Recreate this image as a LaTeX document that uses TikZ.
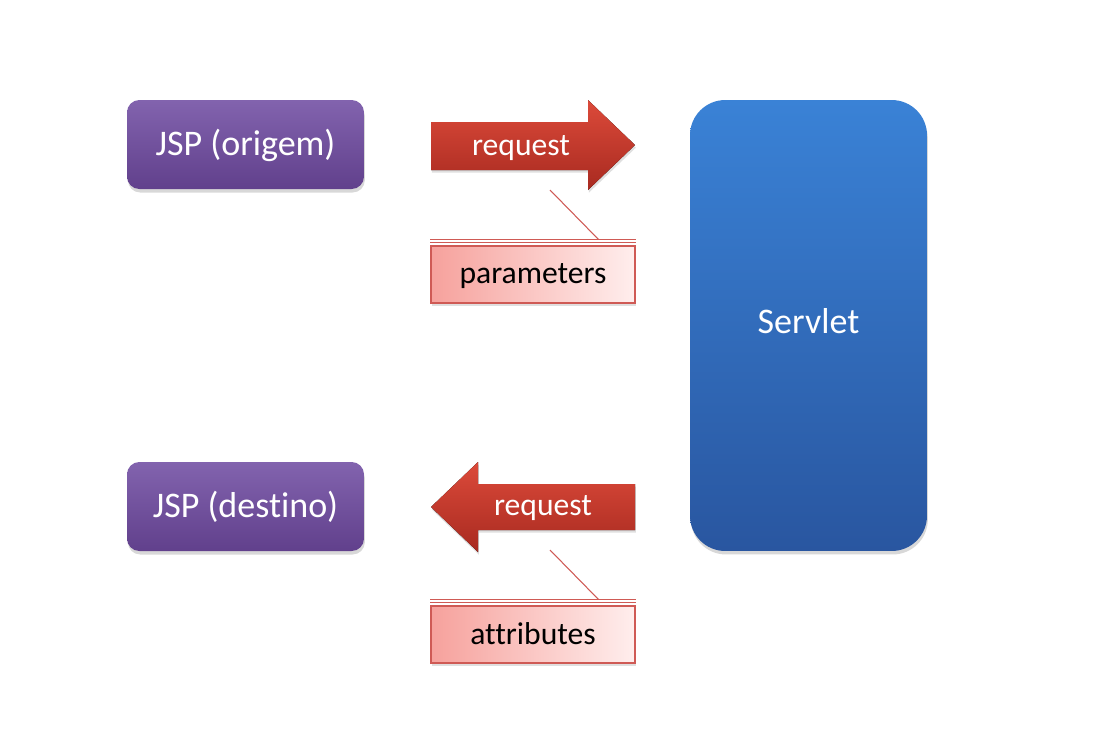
\documentclass[tikz,border=0pt]{standalone}
\usepackage{fontspec}
\setmainfont[Ligatures=NoCommon]{Carlito}
\usepackage{tikz}
\usetikzlibrary{shadows,positioning,calc}
\definecolor{jspTop}{HTML}{8263AE}
\definecolor{jspBot}{HTML}{61408C}
\definecolor{servTop}{HTML}{3A82D6}
\definecolor{servBot}{HTML}{2956A0}
\definecolor{redTop}{HTML}{DC4A3A}
\definecolor{redBot}{HTML}{A82A20}
\definecolor{noteLeft}{HTML}{F6A19C}
\definecolor{noteRight}{HTML}{FFEEED}
\definecolor{noteLine}{HTML}{CF5A55}

\begin{document}
\begin{tikzpicture}[x=0.02cm,y=-0.02cm,
  gross/.style={font=\fontsize{20.5}{23}\selectfont, text height=12.3pt, text depth=0pt},
  klein/.style={font=\fontsize{18}{20}\selectfont, text height=10.8pt, text depth=0pt},
  jsp/.style={gross, rounded corners=7pt, top color=jspTop, bottom color=jspBot, text=white,
    minimum width=4.74cm, minimum height=1.78cm,
    drop shadow={shadow xshift=0.5pt, shadow yshift=-2pt, opacity=0.3}},
  servlet/.style={gross, rounded corners=20pt, top color=servTop, bottom color=servBot, text=white,
    minimum width=4.74cm, minimum height=9.02cm,
    drop shadow={shadow xshift=0.5pt, shadow yshift=-2pt, opacity=0.3}},
  pfeil/.style={top color=redTop, bottom color=redBot,
    drop shadow={shadow xshift=0.5pt, shadow yshift=-1.5pt, opacity=0.25}},
  pfeiltext/.style={klein, text=white, inner sep=0pt},
  notiz/.style={klein, draw=noteLine, line width=0.6pt, left color=noteLeft, right color=noteRight,
    minimum width=4.08cm, minimum height=1.14cm, text=black,
    drop shadow={shadow xshift=0.5pt, shadow yshift=-1.5pt, opacity=0.25}},
  notizlinie/.style={noteLine, line width=0.6pt}]
\useasboundingbox (0,0) rectangle (1102,735);
\fill[white] (0,0) rectangle (1102,735);
%Kaesten
\node[jsp] (origem) at (245.5,144.5) {JSP (origem)};
\node[jsp] (destino) at (245.5,506.5) {JSP (destino)};
\node[servlet] (servlet) at (808.5,325.5) {};
\node[gross, text=white] (servletText) at (808.5,323) {Servlet};
%Pfeile: Koerper 48 hoch, Spitze 90 hoch
\fill[pfeil] (431,122) -- (588,122) -- (588,100) -- (635,145) -- (588,190) -- (588,170) -- (431,170) -- cycle;
\node[pfeiltext] (reqHin) at (521,146) {request};
\fill[pfeil] (635,484) -- (478,484) -- (478,462) -- (431,507) -- (478,552) -- (478,530) -- (635,530) -- cycle;
\node[pfeiltext] (reqZurueck) at (543,506) {request};
%Notizen
\node[notiz] (parameters) at (533,274.5) {parameters};
\node[notiz] (attributes) at (533,634.5) {attributes};
\foreach \n/\y in {parameters/190,attributes/550}{
  \coordinate (start-\n) at (550,\y);
  \draw[notizlinie] ($(\n.north west)+(0,-3)$) -- ($(\n.north east)+(0,-3)$);
  \draw[notizlinie] ($(\n.north west)+(0,-6)$) -- ($(\n.north east)+(0,-6)$);
  \draw[notizlinie] (start-\n) -- ($(\n.north east)+(-37,-6)$);
}
\end{tikzpicture}
\end{document}
